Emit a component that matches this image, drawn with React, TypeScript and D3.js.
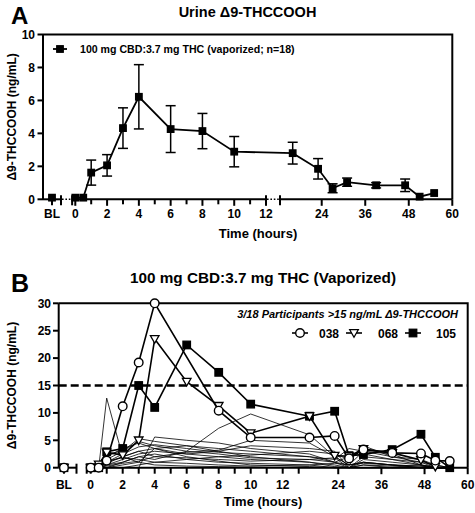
import React from "react";
import * as d3 from "d3";

// ---------- DATA ----------
const times: (string | number)[] = ["BL", 0, 0.5, 1, 2, 3, 4, 6, 8, 10, 16, 23, 27, 31, 39, 47, 51, 55];

// Panel A: mean ± SEM urine Δ9-THCCOOH (ng/mL)
const meanA = [0.1, 0.1, 0.1, 1.62, 2.06, 4.32, 6.22, 4.26, 4.14, 2.89, 2.8, 1.85, 0.67, 1.04, 0.85, 0.85, 0.16, 0.38];
const semA = [0, 0, 0, 0.76, 0.65, 1.23, 1.95, 1.42, 1.07, 0.92, 0.66, 0.62, 0.27, 0.25, 0.16, 0.38, 0, 0];

const yTicksA = [0, 2, 4, 6, 8, 10];
const yTicksB = [0, 5, 10, 15, 20, 25, 30];
const seg2LabelTicks = [0, 2, 4, 6, 8, 10, 12];
const seg3Ticks = [24, 36, 48, 60];

// Panel B: highlighted participants (null = missing)
const p038 = [0, 0, 0, 1.3, 11.2, 19.2, 30, null, 10.4, 5.5, 5.5, 5.8, 1.7, 3.3, 2.7, 2.6, 1.3, 1.2];
const p068 = [0, 0, 0.6, 2.8, 2.3, 5.0, 23.5, 15.7, 11.3, 6.3, 9.4, 2.2, 2.1, 3.4, 2.7, 1.4, 0.2, null];
const p105 = [0, 0, 0, 2.9, 3.5, 15, 11, 22.4, 17.4, 11.6, 9.4, 10.3, 2.2, 2.4, 3.3, 6.1, 1.9, 0];

// Other participants (thin lines)
const others: (number | null)[][] = [
  [null, 0, 0, 12.7, 2.0, 1.0, 0.5, 0.3, 0.2, 0.1, 0, 0, 0, 0, 0, 0, 0, 0],
  [null, 0, 0, 0.5, 1.0, 2.0, 1.5, 3.0, 7.2, 9.8, 6.0, 2.0, 0.5, 1.0, 0.5, 0.3, 0, 0],
  [null, 0, 0, 0, 0, 0, 5.6, 5.0, 4.5, 3.5, 2.5, 1.0, 0.5, 1.0, 0.5, 0.3, 0, 0],
  [null, 0, 0, 1.5, 3.0, 5.3, 4.8, 4.0, 3.0, 2.0, 1.0, 0.5, 0, 0.5, 0.3, 0, 0, 0],
  [null, 0, 0, 2.0, 3.5, 4.5, 3.5, 2.5, 2.0, 1.5, 1.0, 0.2, 0, 0.5, 0, 0, 0, 0],
  [null, 0, 0, 1.0, 2.5, 3.8, 4.2, 3.5, 2.8, 2.5, 2.0, 1.5, 3.5, 3.0, 2.0, 1.0, 0.5, 0],
  [null, 0, 0, 0.5, 1.5, 2.5, 3.0, 2.5, 3.0, 4.0, 3.5, 3.0, 0, 2.0, 1.5, 1.0, 0, 0],
  [null, 0, 0, 0, 1.0, 2.0, 2.5, 1.5, 1.0, 0.8, 0.5, 0, 0, 0, 0, 0, 0, 0],
  [null, 0, 0, 0.8, 2.0, 3.0, 2.0, 1.8, 1.5, 1.2, 1.5, 1.0, 2.0, 2.5, 1.5, 0.5, 0, 0],
  [null, 0, 0, 0, 0.5, 1.0, 3.5, 4.0, 3.5, 3.0, 2.0, 1.0, 0, 1.5, 1.0, 0.5, 0.2, 0],
  [null, 0, 0, 1.2, 1.8, 1.5, 1.0, 0.8, 0.5, 0.3, 0.5, 0.8, 0.5, 0.8, 0.5, 0, 0, 0],
  [null, 0, 0, 0.3, 0.8, 1.2, 2.0, 2.8, 3.2, 5.0, 4.5, 2.0, 0.5, 3.0, 2.5, 0.5, 0, 0],
  [null, 0, 0, 2.5, 3.0, 4.8, 4.0, 3.0, 2.5, 1.8, 1.5, 1.8, 0, 1.0, 0.5, 0, 0, 0],
  [null, 0, 0, 0, 0, 0.5, 1.0, 1.5, 2.0, 2.3, 3.0, 2.5, 1.5, 4.0, 2.0, 1.5, 0.5, 0],
  [null, 0, 0, 1.0, 2.0, 3.0, 3.5, 2.0, 1.2, 0.5, 0.2, 0, 0, 0, 0, 0, 0, 0],
];

const FONT = "'Liberation Sans', Arial, Helvetica, sans-serif";

// ---------- SCALES ----------
// Panel A
const yA = d3.scaleLinear().domain([0, 10]).range([199.3, 34.5]);
const xA1 = d3.scaleLinear().domain([-1, 1]).range([43, 61]);
const xA2 = d3.scaleLinear().domain([0, 12]).range([75.3, 266]);
const xA3 = d3.scaleLinear().domain([12.5, 60]).range([280, 452.3]);
const xA = (t: string | number) => (t === "BL" ? xA1(0) : (t as number) <= 12 ? xA2(t as number) : xA3(t as number));

// Panel B
const yB = d3.scaleLinear().domain([0, 30]).range([467.7, 303.3]);
const xB1 = d3.scaleLinear().domain([-0.42, 1]).range([58.7, 76.5]);
const xB2 = d3.scaleLinear().domain([0, 13]).range([90.7, 298.7]);
const xB3 = d3.scaleLinear().domain([13, 60]).range([298.7, 467.7]);
const xB = (t: string | number) => (t === "BL" ? xB1(0) : (t as number) <= 13 ? xB2(t as number) : xB3(t as number));

type Pt = { t: string | number; v: number | null };

function seriesPts(vals: (number | null)[]): Pt[] {
  return times.map((t, i) => ({ t, v: vals[i] }));
}

const lineGen = (xf: (t: string | number) => number, yf: d3.ScaleLinear<number, number>) =>
  d3
    .line<Pt>()
    .x((d) => xf(d.t))
    .y((d) => yf(d.v as number));

function Square({ x, y, s, fill }: { x: number; y: number; s: number; fill: string }) {
  return <rect x={x - s / 2} y={y - s / 2} width={s} height={s} fill={fill} stroke="#000" strokeWidth={1.3} />;
}
function Circle({ x, y }: { x: number; y: number }) {
  return <circle cx={x} cy={y} r={4.3} fill="#fff" stroke="#000" strokeWidth={1.4} />;
}
function TriDown({ x, y }: { x: number; y: number }) {
  const p = `M${x - 4.3},${y - 3.3}L${x + 4.3},${y - 3.3}L${x},${y + 4.3}Z`;
  return <path d={p} fill="#fff" stroke="#000" strokeWidth={1.3} />;
}

// ---------- PANEL A ----------
function PanelA() {
  const y0 = yA(0);
  const ptsBL = seriesPts(meanA).slice(0, 1);
  const ptsMain = seriesPts(meanA).slice(1);
  const line = lineGen(xA, yA);
  const minor = d3.range(0, 13);
  return (
    <g>
      <text x={11} y={24} fontSize={24} fontWeight="bold" fontFamily={FONT}>A</text>
      <text x={247.5} y={17} fontSize={14.5} fontWeight="bold" fontFamily={FONT} textAnchor="middle">Urine Δ9-THCCOOH</text>
      {/* frame */}
      <path d={`M${xA1.range()[0]},${yA(10)}H${xA3.range()[1]}V${y0}`} fill="none" stroke="#000" strokeWidth={2} />
      <line x1={43} x2={43} y1={yA(10)} y2={y0} stroke="#000" strokeWidth={2} />
      {yTicksA.map((t) => (
        <g key={t}>
          <line x1={37.5} x2={43} y1={yA(t)} y2={yA(t)} stroke="#000" strokeWidth={2} />
          <text x={35} y={yA(t) + 4.2} fontSize={12} fontWeight="bold" fontFamily={FONT} textAnchor="end">{t}</text>
        </g>
      ))}
      <text transform={`translate(16,${(yA(0) + yA(10)) / 2}) rotate(-90)`} fontSize={12} fontWeight="bold" fontFamily={FONT} textAnchor="middle">Δ9-THCCOOH (ng/mL)</text>
      {/* x axis segments */}
      <line x1={43} x2={61} y1={y0} y2={y0} stroke="#000" strokeWidth={2} />
      <line x1={61} x2={61} y1={y0 - 4} y2={y0 + 6} stroke="#000" strokeWidth={2} />
      <line x1={xA1(0)} x2={xA1(0)} y1={y0} y2={y0 + 6} stroke="#000" strokeWidth={2} />
      <line x1={62} x2={71} y1={y0} y2={y0} stroke="#000" strokeWidth={1.6} strokeDasharray="1.6,1.8" />
      <line x1={xA2(-0.2)} x2={xA2(12)} y1={y0} y2={y0} stroke="#000" strokeWidth={2} />
      <line x1={xA2(-0.2)} x2={xA2(-0.2)} y1={y0 - 4} y2={y0 + 6} stroke="#000" strokeWidth={2} />
      <line x1={xA2(12)} x2={xA2(12)} y1={y0 - 4} y2={y0 + 6} stroke="#000" strokeWidth={2} />
      {minor.map((t) => (
        <line key={t} x1={xA2(t)} x2={xA2(t)} y1={y0} y2={y0 + (t % 2 === 0 ? 6.5 : 5)} stroke="#000" strokeWidth={2} />
      ))}
      <line x1={267} x2={279} y1={y0} y2={y0} stroke="#000" strokeWidth={1.6} strokeDasharray="1.6,1.8" />
      <line x1={280} x2={452.3} y1={y0} y2={y0} stroke="#000" strokeWidth={2} />
      <line x1={280} x2={280} y1={y0 - 4} y2={y0 + 6} stroke="#000" strokeWidth={2} />
      {seg3Ticks.map((t) => (
        <line key={t} x1={xA3(t)} x2={xA3(t)} y1={y0} y2={y0 + 6.5} stroke="#000" strokeWidth={2} />
      ))}
      {/* tick labels */}
      <text x={xA1(0)} y={217.5} fontSize={12} fontWeight="bold" fontFamily={FONT} textAnchor="middle">BL</text>
      {seg2LabelTicks.map((t) => (
        <text key={t} x={xA2(t)} y={217.5} fontSize={12} fontWeight="bold" fontFamily={FONT} textAnchor="middle">{t}</text>
      ))}
      {seg3Ticks.map((t) => (
        <text key={t} x={xA3(t)} y={217.5} fontSize={12} fontWeight="bold" fontFamily={FONT} textAnchor="middle">{t}</text>
      ))}
      <text x={258} y={238} fontSize={13} fontWeight="bold" fontFamily={FONT} textAnchor="middle">Time (hours)</text>
      {/* data */}
      <path d={line(ptsMain) || ""} fill="none" stroke="#000" strokeWidth={1.8} />
      {seriesPts(meanA).map((d, i) =>
        semA[i] > 0 ? (
          <g key={i} stroke="#000" strokeWidth={1.5}>
            <line x1={xA(d.t)} x2={xA(d.t)} y1={yA((d.v as number) + semA[i])} y2={yA((d.v as number) - semA[i])} />
            <line x1={xA(d.t) - 5} x2={xA(d.t) + 5} y1={yA((d.v as number) + semA[i])} y2={yA((d.v as number) + semA[i])} />
            <line x1={xA(d.t) - 5} x2={xA(d.t) + 5} y1={yA((d.v as number) - semA[i])} y2={yA((d.v as number) - semA[i])} />
          </g>
        ) : null
      )}
      {[...ptsBL, ...ptsMain].map((d, i) => (
        <Square key={i} x={xA(d.t)} y={yA(d.v as number)} s={6.5} fill="#000" />
      ))}
      {/* legend */}
      <line x1={53} x2={67} y1={49} y2={49} stroke="#000" strokeWidth={1.8} />
      <Square x={60} y={49} s={6.5} fill="#000" />
      <text x={80} y={53} fontSize={10.6} fontWeight="bold" fontFamily={FONT}>100 mg CBD:3.7 mg THC (vaporized; n=18)</text>
    </g>
  );
}

// ---------- PANEL B ----------
function PanelB() {
  const y0 = yB(0);
  const line = d3
    .line<Pt>()
    .defined((d) => d.v !== null && d.t !== "BL")
    .x((d) => xB(d.t))
    .y((d) => yB(d.v as number));
  const lineSkip = (vals: (number | null)[]) =>
    line(seriesPts(vals).filter((d) => d.v !== null && d.t !== "BL")) || "";
  const hourTicks = d3.range(0, 14);
  return (
    <g>
      <text x={11} y={292} fontSize={25} fontWeight="bold" fontFamily={FONT}>B</text>
      <text x={263} y={283} fontSize={15.3} fontWeight="bold" fontFamily={FONT} textAnchor="middle">100 mg CBD:3.7 mg THC (Vaporized)</text>
      <path d={`M${58.7},${yB(30)}H${467.7}V${y0}`} fill="none" stroke="#000" strokeWidth={2} />
      <line x1={58.7} x2={58.7} y1={yB(30)} y2={y0} stroke="#000" strokeWidth={2} />
      {yTicksB.map((t) => (
        <g key={t}>
          <line x1={53} x2={58.7} y1={yB(t)} y2={yB(t)} stroke="#000" strokeWidth={2} />
          <text x={51} y={yB(t) + 4.2} fontSize={12} fontWeight="bold" fontFamily={FONT} textAnchor="end">{t}</text>
        </g>
      ))}
      <text transform={`translate(16,${(yB(0) + yB(30)) / 2}) rotate(-90)`} fontSize={12} fontWeight="bold" fontFamily={FONT} textAnchor="middle">Δ9-THCCOOH (ng/mL)</text>
      {/* x axis */}
      <line x1={58.7} x2={76.5} y1={y0} y2={y0} stroke="#000" strokeWidth={2} />
      <line x1={76.5} x2={76.5} y1={y0 - 4} y2={y0 + 6} stroke="#000" strokeWidth={2} />
      <line x1={xB1(0)} x2={xB1(0)} y1={y0} y2={y0 + 6} stroke="#000" strokeWidth={2} />
      <line x1={xB2(-0.25)} x2={467.7} y1={y0} y2={y0} stroke="#000" strokeWidth={2} />
      <line x1={xB2(-0.25)} x2={xB2(-0.25)} y1={y0 - 4} y2={y0 + 6} stroke="#000" strokeWidth={2} />
      {hourTicks.map((t) => (
        <line key={t} x1={xB2(t)} x2={xB2(t)} y1={y0} y2={y0 + 6} stroke="#000" strokeWidth={2} />
      ))}
      {seg3Ticks.map((t) => (
        <line key={t} x1={xB3(t)} x2={xB3(t)} y1={y0} y2={y0 + 6.5} stroke="#000" strokeWidth={2} />
      ))}
      <text x={xB1(0)} y={489} fontSize={12} fontWeight="bold" fontFamily={FONT} textAnchor="middle">BL</text>
      {seg2LabelTicks.map((t) => (
        <text key={t} x={xB2(t)} y={489} fontSize={12} fontWeight="bold" fontFamily={FONT} textAnchor="middle">{t}</text>
      ))}
      {seg3Ticks.map((t) => (
        <text key={t} x={xB3(t)} y={489} fontSize={12} fontWeight="bold" fontFamily={FONT} textAnchor="middle">{t}</text>
      ))}
      <text x={263} y={506} fontSize={13} fontWeight="bold" fontFamily={FONT} textAnchor="middle">Time (hours)</text>
      {/* thin lines */}
      {others.map((vals, i) => (
        <path key={i} d={lineSkip(vals)} fill="none" stroke="#000" strokeWidth={0.8} />
      ))}
      {/* threshold */}
      <line x1={58.7} x2={467.7} y1={yB(15)} y2={yB(15)} stroke="#000" strokeWidth={2.6} strokeDasharray="8,4" />
      {/* highlighted */}
      <path d={lineSkip(p038)} fill="none" stroke="#000" strokeWidth={1.6} />
      <path d={lineSkip(p068)} fill="none" stroke="#000" strokeWidth={1.6} />
      <path d={lineSkip(p105)} fill="none" stroke="#000" strokeWidth={1.6} />
      {seriesPts(p105).filter((d) => d.v !== null).map((d, i) => (
        <Square key={i} x={xB(d.t)} y={yB(d.v as number)} s={7.5} fill="#000" />
      ))}
      {seriesPts(p068).filter((d) => d.v !== null).map((d, i) => (
        <TriDown key={i} x={xB(d.t)} y={yB(d.v as number)} />
      ))}
      {seriesPts(p038).filter((d) => d.v !== null).map((d, i) => (
        <Circle key={i} x={xB(d.t)} y={yB(d.v as number)} />
      ))}
      {/* legend */}
      <text x={458} y={318} fontSize={11} fontWeight="bold" fontStyle="italic" fontFamily={FONT} textAnchor="end">3/18 Participants &gt;15 ng/mL Δ9-THCCOOH</text>
      <line x1={292} x2={308} y1={333} y2={333} stroke="#000" strokeWidth={1.6} />
      <Circle x={300} y={333} />
      <text x={319} y={337.5} fontSize={12} fontWeight="bold" fontFamily={FONT}>038</text>
      <line x1={346} x2={362} y1={333} y2={333} stroke="#000" strokeWidth={1.6} />
      <TriDown x={354} y={333} />
      <text x={378} y={337.5} fontSize={12} fontWeight="bold" fontFamily={FONT}>068</text>
      <line x1={405} x2={421} y1={333} y2={333} stroke="#000" strokeWidth={1.6} />
      <Square x={413} y={333} s={7.5} fill="#000" />
      <text x={436} y={337.5} fontSize={12} fontWeight="bold" fontFamily={FONT}>105</text>
    </g>
  );
}

export default function App() {
  return (
    <svg width={475} height={513} style={{ position: "absolute", left: 0, top: 0, background: "#fff" }}>
      <rect width={475} height={513} fill="#fff" />
      <PanelA />
      <PanelB />
    </svg>
  );
}
